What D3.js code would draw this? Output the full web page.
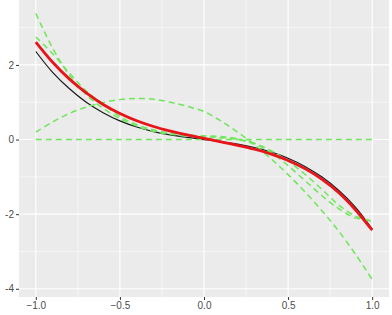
<!DOCTYPE html>
<html>
<head>
<meta charset="utf-8">
<script src="https://cdn.jsdelivr.net/npm/d3@7"></script>
<style>
  body { margin: 0; background: #fff; }
  svg { display: block; font-family: "Liberation Sans", Arial, sans-serif; }
</style>
</head>
<body>
<div id="graph"></div>
<script>
const width = 392;
const height = 315;

// x positions shared by all curves
const xs = [-1, -0.9, -0.8, -0.7, -0.6, -0.5, -0.4, -0.3, -0.2, -0.1, 0,
            0.1, 0.2, 0.3, 0.4, 0.5, 0.6, 0.7, 0.8, 0.9, 1];

// true curve (black)
const truth = [2.36, 1.8, 1.36, 1.0, 0.72, 0.5, 0.335, 0.214, 0.124, 0.057, 0,
               -0.057, -0.124, -0.214, -0.335, -0.5, -0.72, -1.0, -1.36, -1.81, -2.4];

// average fit (red)
const average = [2.61, 2.07, 1.62, 1.25, 0.94, 0.7, 0.505, 0.35, 0.226, 0.122, 0.03,
                 -0.061, -0.155, -0.26, -0.39, -0.56, -0.78, -1.06, -1.42, -1.88, -2.43];

// single fits (green dashed)
const fitFlat = [0, 0, 0, 0, 0, 0, 0, 0, 0, 0, 0,
                 0, 0, 0, 0, 0, 0, 0, 0, 0, 0];
const fitHump = [0.2, 0.47, 0.7, 0.87, 0.99, 1.07, 1.1, 1.08, 1.0, 0.89, 0.75,
                 0.5, 0.2, -0.14, -0.52, -0.94, -1.4, -1.9, -2.45, -3.07, -3.75];
const fitA = [3.38, 2.45, 1.72, 1.2, 0.84, 0.56, 0.36, 0.22, 0.14, 0.09, 0.07,
              0.05, 0.0, -0.12, -0.35, -0.7, -1.1, -1.5, -1.85, -2.1, -2.17];
const fitB = [2.75, 2.3, 1.78, 1.3, 0.95, 0.62, 0.4, 0.26, 0.17, 0.12, 0.1,
              0.08, 0.02, -0.1, -0.3, -0.58, -0.93, -1.33, -1.75, -2.05, -2.2];
const fits = [fitFlat, fitHump, fitA, fitB];

const xTicks = [-1, -0.5, 0, 0.5, 1];
const xMinor = [-0.75, -0.25, 0.25, 0.75];
const yTicks = [-4, -2, 0, 2];
const yMinor = [-3, -1, 1, 3];

const panel = {left: 19, right: 389, top: 0, bottom: 297};

const x = d3.scaleLinear().domain([-1.1, 1.1]).range([panel.left, panel.right]);
const y = d3.scaleLinear().domain([-4.22, 3.74]).range([panel.bottom, panel.top]);

const svg = d3.select('#graph')
  .append('svg')
  .attr('width', width)
  .attr('height', height);

svg.append('rect')
  .attr('x', panel.left)
  .attr('y', panel.top)
  .attr('width', panel.right - panel.left)
  .attr('height', panel.bottom - panel.top)
  .attr('fill', '#EBEBEB');

const grid = svg.append('g');
grid.selectAll('.vminor').data(xMinor).join('line')
  .attr('x1', d => x(d)).attr('x2', d => x(d))
  .attr('y1', panel.top).attr('y2', panel.bottom)
  .attr('stroke', '#fff').attr('stroke-width', 0.55);
grid.selectAll('.hminor').data(yMinor).join('line')
  .attr('y1', d => y(d)).attr('y2', d => y(d))
  .attr('x1', panel.left).attr('x2', panel.right)
  .attr('stroke', '#fff').attr('stroke-width', 0.55);
grid.selectAll('.vmajor').data(xTicks).join('line')
  .attr('x1', d => x(d)).attr('x2', d => x(d))
  .attr('y1', panel.top).attr('y2', panel.bottom)
  .attr('stroke', '#fff').attr('stroke-width', 1.1);
grid.selectAll('.hmajor').data(yTicks).join('line')
  .attr('y1', d => y(d)).attr('y2', d => y(d))
  .attr('x1', panel.left).attr('x2', panel.right)
  .attr('stroke', '#fff').attr('stroke-width', 1.1);

// axes
const xAxis = svg.append('g')
  .attr('transform', `translate(0, ${panel.bottom})`)
  .call(d3.axisBottom(x).tickValues(xTicks).tickFormat(d3.format('.1f')).tickSize(3).tickPadding(2));
const yAxis = svg.append('g')
  .attr('transform', `translate(${panel.left}, 0)`)
  .call(d3.axisLeft(y).tickValues(yTicks).tickFormat(d => d).tickSize(3).tickPadding(2));

[xAxis, yAxis].forEach(a => {
  a.select('.domain').remove();
  a.selectAll('line').attr('stroke', '#333333');
  a.selectAll('text').attr('fill', '#4D4D4D').style('font-size', '10px');
});

const line = (vals) => d3.line()
  .x((d, i) => x(xs[i]))
  .y(d => y(d))
  .curve(d3.curveCatmullRom.alpha(0.5))(vals);

svg.append('path')
  .attr('d', line(truth))
  .attr('fill', 'none')
  .attr('stroke', '#1a1a1a')
  .attr('stroke-width', 1.2);

for (let i = 0; i < fits.length; i++) {
  svg.append('path')
    .attr('d', line(fits[i]))
    .attr('fill', 'none')
    .attr('stroke', '#6ee65a')
    .attr('stroke-width', 1.5)
    .attr('stroke-dasharray', '6,4');
}

svg.append('path')
  .attr('d', line(average))
  .attr('fill', 'none')
  .attr('stroke', '#e8141a')
  .attr('stroke-width', 2.8);
</script>
</body>
</html>
